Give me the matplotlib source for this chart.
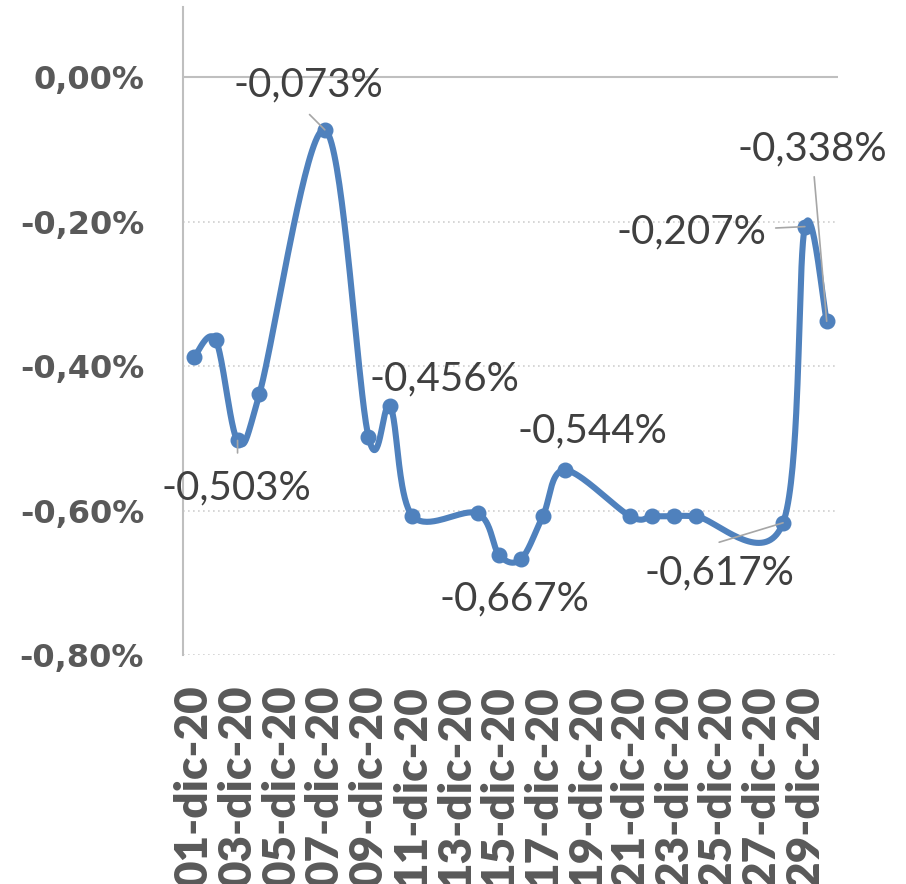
import matplotlib
matplotlib.use('Agg')
import matplotlib.pyplot as plt
import numpy as np
from matplotlib.ticker import FuncFormatter

# business days of December 2020 and daily change (%)
days = [1, 2, 3, 4, 7, 9, 10, 11, 14, 15, 16, 17, 18, 21, 22, 23, 24, 28, 29, 30]
values = [-0.388, -0.364, -0.503, -0.439, -0.073, -0.498, -0.456, -0.607, -0.604, -0.662,
          -0.667, -0.607, -0.544, -0.608, -0.608, -0.608, -0.608, -0.617, -0.207, -0.338]

tick_days = [1, 3, 5, 7, 9, 11, 13, 15, 17, 19, 21, 23, 25, 27, 29]
tick_labels = ['01-dic-20', '03-dic-20', '05-dic-20', '07-dic-20', '09-dic-20',
               '11-dic-20', '13-dic-20', '15-dic-20', '17-dic-20', '19-dic-20',
               '21-dic-20', '23-dic-20', '25-dic-20', '27-dic-20', '29-dic-20']

# labelled points: day, text offset (pt), leader line end (pt) or None
label_days = [3, 7, 10, 16, 18, 28, 29, 30]
label_offsets = [(-1, -34), (-12, 32), (39, 20), (-5, -29), (20, 28), (-46, -36), (-82, -4), (-10, 124)]
leader_ends = [(0, -9), (-11, 11), None, None, None, (-46, -14), (-21, -1), (-9, 104)]

BLUE = '#4F81BD'


def smooth(x, y, n=40):
    # Excel-like smoothed line (cubic Bezier through the points)
    pts = np.column_stack([x, y]).astype(float)
    m = len(pts)
    out = []
    t = np.linspace(0, 1, n)[:, None]
    for i in range(m - 1):
        p0 = pts[max(i - 1, 0)]
        p1 = pts[i]
        p2 = pts[i + 1]
        p3 = pts[min(i + 2, m - 1)]
        c1 = p1 + (p2 - p0) / 6
        c2 = p2 - (p3 - p1) / 6
        seg = (1 - t) ** 3 * p1 + 3 * (1 - t) ** 2 * t * c1 + 3 * (1 - t) * t ** 2 * c2 + t ** 3 * p2
        out.append(seg)
    return np.vstack(out)


fig = plt.figure(figsize=(9.06, 8.84), dpi=100)
ax = fig.add_axes([183 / 906, 229 / 884, (837.6 - 183) / 906, (655 - 7) / 884])

curve = smooth(days, values)
ax.plot(curve[:, 0], curve[:, 1], color=BLUE, lw=4.4, solid_capstyle='round', zorder=3)
ax.plot(days, values, 'o', color=BLUE, ms=10.5, zorder=4)

ax.set_xlim(0.5, 30.5)
ax.set_ylim(-0.8, 0.097)

# gridlines
for g in [-0.2, -0.4, -0.6, -0.8]:
    ax.axhline(g, color='#D0D0D0', lw=1.2, ls=(0, (1, 2)), zorder=1)
ax.axhline(0, color='#BFBFBF', lw=1.5, zorder=2)

for s in ['top', 'right', 'bottom']:
    ax.spines[s].set_visible(False)
ax.spines['left'].set_color('#BFBFBF')
ax.spines['left'].set_linewidth(1.5)

ax.set_yticks([0, -0.2, -0.4, -0.6, -0.8])
ax.yaxis.set_major_formatter(FuncFormatter(lambda v, p: ('%.2f%%' % v).replace('.', ',').replace('-0,00', '0,00')))
ax.tick_params(axis='y', length=0, pad=28, labelsize=23, labelcolor='#595959')
for lab in ax.get_yticklabels():
    lab.set_fontweight('bold')
    lab.set_family('DejaVu Sans')

ax.set_xticks(tick_days)
ax.set_xticklabels(tick_labels, rotation=90, fontsize=33, fontweight='heavy',
                   color='#595959', family='Lato')
ax.tick_params(axis='x', length=0, pad=22)

# data labels
for d, off, lead in zip(label_days, label_offsets, leader_ends):
    v = values[days.index(d)]
    if lead is not None:
        ax.annotate('', xy=(d, v), xytext=lead, textcoords='offset points',
                    arrowprops=dict(arrowstyle='-', color='#A6A6A6', lw=1.2,
                                    shrinkA=0, shrinkB=0), zorder=5)
    txt = ('%.3f%%' % v).replace('.', ',')
    ax.annotate(txt, xy=(d, v), xytext=off, textcoords='offset points',
                ha='center', va='center', fontsize=29, color='#404040',
                family='Lato', zorder=6)

fig.savefig('out.png', dpi=100)
